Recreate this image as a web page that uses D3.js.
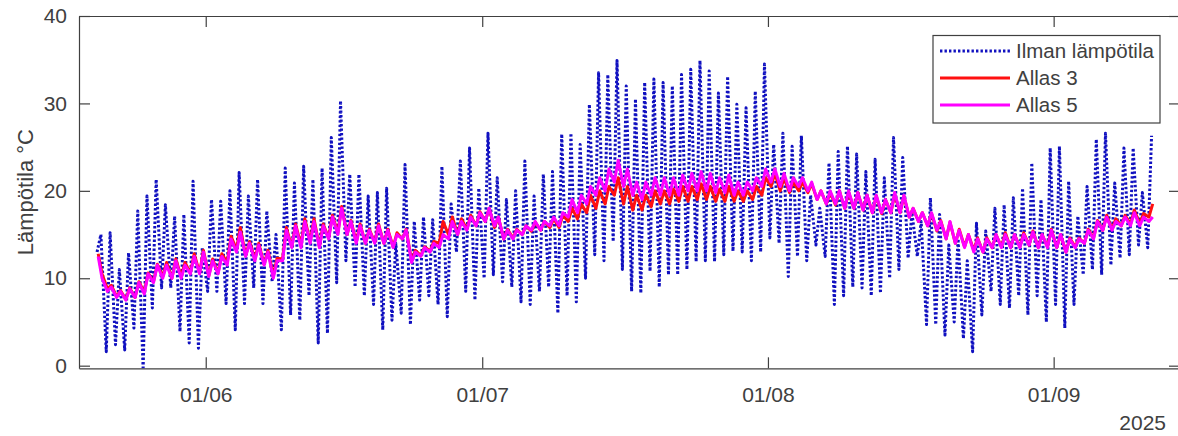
<!DOCTYPE html>
<html><head><meta charset="utf-8">
<script src="https://cdn.jsdelivr.net/npm/d3@7"></script>
<style>
body{margin:0;background:#fff}
svg{display:block}
text{font-family:"Liberation Sans",Arial,Helvetica,sans-serif;fill:#404040}
</style>
</head><body>
<svg id="c" width="1178" height="436"></svg>
<script>
// ---- data (one value per day, first day 2025-05-20) ----
const firstDay = [2025, 4, 20];
const airMin = [13.0,1.6,2.4,1.8,4.3,-0.5,6.6,8.9,8.9,3.9,
 2.6,2.0,8.5,8.5,7.1,4.1,7.1,8.9,7.1,9.6,
 4.1,5.8,5.2,8.0,2.6,3.7,9.5,12.0,9.0,8.0,
 7.0,4.1,5.2,6.0,4.7,7.5,8.0,7.0,5.6,13.0,
 8.5,7.5,10.0,10.4,9.6,9.0,7.3,7.0,8.5,9.0,
 6.0,8.0,7.3,10.0,12.7,12.0,14.2,11.0,8.5,8.3,
 10.8,9.0,10.4,10.4,11.0,11.9,12.0,11.9,12.7,13.1,
 13.0,12.0,13.0,14.6,14.0,10.2,12.5,12.0,13.8,12.5,
 7.0,8.0,9.0,8.9,8.0,8.3,10.0,11.0,12.3,12.5,
 4.7,4.7,3.5,5.0,3.1,1.6,5.8,8.5,7.0,6.6,
 8.0,5.8,8.0,5.0,7.0,4.3,7.0,10.4,11.0,10.4,
 11.5,12.3,12.7,13.8,13.5];
const airMax = [15.0,15.2,11.0,12.9,17.7,19.4,21.3,18.4,17.1,17.3,
 21.1,13.5,19.0,18.8,20.0,22.1,19.4,21.3,17.7,15.0,
 22.6,20.9,22.8,21.3,22.6,26.1,30.3,21.9,21.9,19.4,
 19.8,20.3,14.0,23.0,16.5,17.0,16.7,22.8,18.5,23.4,
 24.9,20.3,26.6,21.5,19.0,20.0,23.4,19.4,21.9,22.2,
 26.5,26.6,25.3,29.9,33.5,33.3,34.9,32.0,30.5,32.4,
 32.8,32.4,32.0,33.3,33.9,34.9,33.7,31.2,33.1,29.9,
 29.5,31.4,34.5,25.3,26.6,25.1,26.3,19.5,18.0,23.2,
 24.5,25.1,24.2,22.2,23.6,21.5,26.1,23.8,17.5,16.5,
 19.2,17.3,13.8,14.5,12.0,16.3,15.4,18.0,18.4,19.2,
 20.3,23.2,19.0,24.9,25.1,21.1,17.1,20.5,25.9,26.6,
 20.9,24.9,24.9,19.8,26.3];
const allas3Morning = [12.8,8.8,7.9,7.6,7.8,8.4,9.6,10.2,10.0,10.2,
 10.6,10.6,10.3,10.6,11.8,13.3,12.6,12.2,11.6,10.3,
 12.2,13.6,13.8,14.2,13.6,14.6,15.2,15.0,14.2,14.0,
 14.1,14.0,13.6,14.5,12.0,12.6,13.1,14.0,15.0,15.0,
 15.6,16.0,16.5,15.8,14.5,14.6,15.0,15.4,15.5,15.8,
 15.8,16.5,16.8,17.5,18.0,18.5,19.5,18.5,17.8,17.8,
 18.2,18.5,18.5,18.8,18.8,19.0,19.0,18.8,18.8,18.8,
 18.8,19.0,19.5,20.5,20.0,19.8,20.0,19.8,19.0,18.5,
 18.4,18.0,18.0,17.8,17.5,17.4,17.5,17.5,17.0,16.5,
 16.0,15.4,14.5,14.0,13.6,13.2,13.0,13.5,13.6,13.5,
 13.6,13.8,13.5,13.6,13.5,13.0,13.6,14.0,14.6,15.5,
 15.6,16.0,16.2,16.2,17.0];
const allas3Evening = [10.5,9.2,8.6,8.9,9.6,10.6,11.6,11.8,12.2,11.8,
 12.8,13.2,12.2,12.8,14.8,15.8,14.2,14.0,13.2,12.3,
 15.8,16.2,16.8,16.8,16.2,17.2,18.2,16.6,16.2,15.6,
 16.2,15.6,15.2,15.6,13.2,13.6,14.2,16.5,17.0,16.8,
 17.2,17.6,18.0,17.0,15.6,15.6,16.0,16.4,16.5,16.8,
 17.2,18.0,18.5,19.5,20.0,20.5,21.5,20.5,19.5,19.5,
 20.0,20.0,20.2,20.5,20.5,20.8,20.5,20.2,20.5,20.0,
 20.0,20.5,21.5,22.0,21.5,21.0,21.0,20.8,20.0,19.8,
 20.0,19.8,19.8,19.5,19.4,19.0,19.6,19.4,18.0,17.5,
 17.4,16.6,16.4,15.6,15.0,14.6,14.6,15.0,15.2,15.0,
 15.2,15.4,15.0,15.6,15.0,14.6,14.6,15.6,16.6,17.2,
 16.8,17.2,17.8,17.4,18.5];
const allas5Morning = [12.5,8.5,7.8,7.5,7.8,8.2,9.5,10.0,10.0,10.0,
 10.5,10.5,10.2,10.5,11.5,13.0,12.5,12.0,11.5,10.0,
 12.0,13.5,13.5,14.0,13.5,14.5,15.0,15.0,14.0,14.0,
 14.0,14.0,13.5,14.5,11.8,12.5,13.0,13.5,14.5,15.0,
 15.5,16.0,16.5,16.0,14.5,14.5,15.0,15.5,15.5,16.0,
 16.0,17.0,17.5,18.5,19.5,20.0,21.0,20.5,19.5,19.0,
 19.5,19.5,19.5,19.5,20.0,20.0,20.0,19.8,19.8,19.5,
 19.5,20.0,20.5,21.0,20.5,20.0,20.5,20.0,19.0,18.5,
 18.5,18.0,18.0,17.8,17.5,17.5,17.5,17.5,17.0,16.5,
 16.0,15.5,14.5,14.0,13.5,13.0,13.0,13.5,13.5,13.5,
 13.5,13.8,13.5,13.5,13.5,13.0,13.5,14.0,14.5,15.5,
 15.5,16.0,16.0,16.0,16.5];
const allas5Evening = [10.0,9.0,8.5,8.8,9.5,10.5,11.5,11.5,12.0,11.5,
 12.5,13.0,12.0,12.5,14.5,15.3,14.0,13.8,13.0,12.0,
 15.5,16.0,16.5,16.5,16.0,17.0,18.0,16.5,16.0,15.5,
 16.0,15.5,15.0,15.5,13.0,13.5,14.0,15.0,16.5,16.5,
 17.0,17.5,18.0,17.0,15.5,15.5,16.0,16.5,16.5,17.0,
 17.5,19.0,19.5,20.5,21.5,22.5,23.5,22.5,21.0,21.0,
 21.5,21.5,21.5,21.8,22.0,22.2,22.0,21.5,21.8,21.0,
 21.0,21.5,22.5,22.5,22.0,21.5,21.5,21.0,20.0,20.0,
 20.0,20.0,19.8,19.5,19.5,19.0,19.8,19.5,18.0,17.5,
 17.5,16.5,16.5,15.5,15.0,14.5,14.5,15.0,15.0,15.0,
 15.0,15.3,15.0,15.5,15.0,14.5,14.5,15.5,16.5,17.0,
 16.5,17.0,17.5,17.0,17.0];
const seriesNames = ["Ilman lämpötila", "Allas 3", "Allas 5"];
const yTicks = [0, 10, 20, 30, 40];
const xTickDates = [[2025,5,1],[2025,6,1],[2025,7,1],[2025,8,1]];
const xTickLabels = ["01/06", "01/07", "01/08", "01/09"];
const yearLabel = "2025";
const yLabel = "Lämpötila °C";

// ---- layout ----
const L = 79, R = 1180, T = 16, B = 368.3;
const svg = d3.select("#c");
const x = d3.scaleTime()
  .domain([new Date(2025,4,18,6), new Date(2025,8,14,17)])
  .range([L, R]);
const y = d3.scaleLinear().domain([-0.3, 40]).range([B, T]);

const day0 = new Date(...firstDay);
const at = (i, h) => d3.timeHour.offset(d3.timeDay.offset(day0, i), h);

const air = [];
airMin.forEach((v, i) => { air.push([at(i,5), v]); air.push([at(i,15), airMax[i]]); });
const mk = (m, e) => { const a = []; m.forEach((v,i)=>{a.push([at(i,8), v]); a.push([at(i,18), e[i]]);}); return a; };
const allas3 = mk(allas3Morning, allas3Evening);
const allas5 = mk(allas5Morning, allas5Evening);

svg.append("defs").append("clipPath").attr("id","clip")
  .append("rect").attr("x",L).attr("y",T).attr("width",R-L).attr("height",B-T);

const line = d3.line().x(d=>x(d[0])).y(d=>y(d[1]));
const plot = svg.append("g").attr("clip-path","url(#clip)");
const styles = [
  {data: air, color: "#1010c0", dash: "2.4,2.1", w: 3},
  {data: allas3, color: "#ff1010", dash: null, w: 3},
  {data: allas5, color: "#ff00ff", dash: null, w: 3}
];
styles.forEach(s => {
  plot.append("path").datum(s.data).attr("d", line)
    .attr("fill","none").attr("stroke", s.color).attr("stroke-width", s.w)
    .attr("stroke-linejoin","round")
    .attr("stroke-dasharray", s.dash);
});

// ---- axes ----
const axCol = "#404040";
const tickDates = xTickDates.map(d => new Date(d[0], d[1], d[2]));
const fmt = (d,i) => xTickLabels[i];
const gB = svg.append("g").attr("transform",`translate(0,${B})`)
  .call(d3.axisBottom(x).tickValues(tickDates).tickFormat(fmt).tickSizeInner(-11).tickSizeOuter(0).tickPadding(19));
const gT = svg.append("g").attr("transform",`translate(0,${T})`)
  .call(d3.axisTop(x).tickValues(tickDates).tickFormat("").tickSizeInner(-11).tickSizeOuter(0));
const gL = svg.append("g").attr("transform",`translate(${L},0)`)
  .call(d3.axisLeft(y).tickValues(yTicks).tickSizeInner(-11).tickSizeOuter(0).tickPadding(12));
const gR = svg.append("g").attr("transform",`translate(${R},0)`)
  .call(d3.axisRight(y).tickValues(yTicks).tickFormat("").tickSizeInner(-11).tickSizeOuter(0));
[gB,gT,gL,gR].forEach(g => {
  g.selectAll("path,line").attr("stroke", axCol).attr("stroke-width", 1.2);
  g.selectAll("text").attr("fill", axCol).style("font-size","21px")
   .style("font-family",'"Liberation Sans",Arial,sans-serif');
});

svg.append("text").attr("x", 1166).attr("y", 436).attr("dy","-0.3em")
  .attr("text-anchor","end").style("font-size","21px").attr("fill",axCol).text(yearLabel);

svg.append("text").attr("transform",`translate(33,${(T+B)/2}) rotate(-90)`)
  .attr("text-anchor","middle").style("font-size","22px").attr("fill",axCol).text(yLabel);

// ---- legend ----
const lg = svg.append("g");
lg.append("rect").attr("x",933).attr("y",35.5).attr("width",227).attr("height",87.5)
  .attr("fill","#fff").attr("stroke",axCol).attr("stroke-width",1.2);
styles.forEach((s,i) => {
  const yy = 51 + i*27;
  lg.append("line").attr("x1",940).attr("x2",1010).attr("y1",yy).attr("y2",yy)
    .attr("stroke",s.color).attr("stroke-width",s.w).attr("stroke-dasharray",s.dash);
  lg.append("text").attr("x",1016).attr("y",yy).attr("dy","0.35em")
    .style("font-size","20.5px").attr("fill","#1a1a1a").text(seriesNames[i]);
});
</script>
</body></html>
